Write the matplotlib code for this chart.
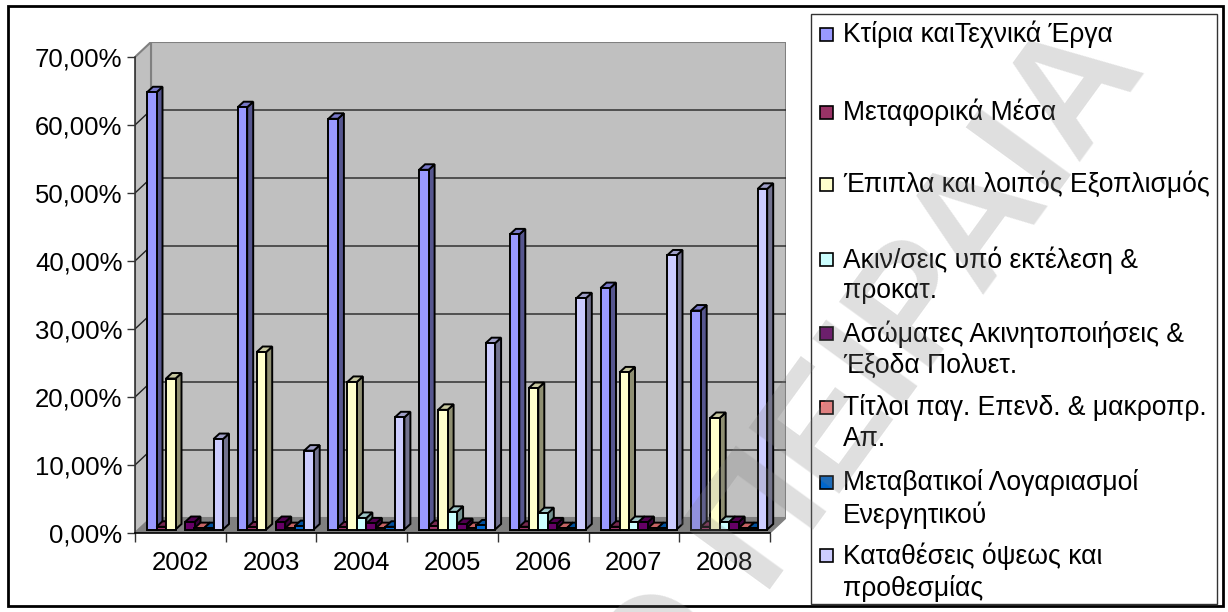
# import packages
import matplotlib
matplotlib.use('Agg')
import matplotlib.pyplot as plt
from matplotlib.patches import Polygon, Rectangle
from matplotlib.colors import to_rgb

plt.rcParams['font.family'] = ['Liberation Sans', 'DejaVu Sans']

W, H = 1228, 612

# data
years = ['2002', '2003', '2004', '2005', '2006', '2007', '2008']
ktiria = [64.3, 62.1, 60.4, 52.9, 43.4, 35.5, 32.2]
metaforika = [0.4, 0.3, 0.3, 0.5, 0.4, 0.4, 0.4]
epipla = [22.2, 26.1, 21.7, 17.6, 20.8, 23.1, 16.4]
akin = [0.0, 0.0, 1.7, 2.6, 2.4, 1.1, 1.1]
asomates = [1.1, 1.1, 0.9, 0.8, 0.9, 1.1, 1.1]
titloi = [0.2, 0.2, 0.2, 0.2, 0.2, 0.2, 0.2]
metavatikoi = [0.2, 0.5, 0.4, 0.6, 0.2, 0.2, 0.2]
katatheseis = [13.3, 11.6, 16.5, 27.4, 34.0, 40.3, 50.1]

series = [ktiria, metaforika, epipla, akin, asomates, titloi, metavatikoi, katatheseis]
colors = ['#9999FF', '#993366', '#FFFFCC', '#CCFFFF', '#660066', '#FF8080', '#0066CC', '#CCCCFF']
labels = ['Κτίρια καιΤεχνικά Έργα', 'Μεταφορικά Μέσα', 'Έπιπλα και λοιπός Εξοπλισμός',
          'Ακιν/σεις υπό εκτέλεση &\nπροκατ.', 'Ασώματες Ακινητοποιήσεις &\nΈξοδα Πολυετ.',
          'Τίτλοι παγ. Επενδ. & μακροπρ.\nΑπ.', 'Μεταβατικοί Λογαριασμοί\nΕνεργητικού',
          'Καταθέσεις όψεως και\nπροθεσμίας']
legend_y = [34, 112, 184, 259, 333, 407, 482, 555]
y_ticks = [0, 10, 20, 30, 40, 50, 60, 70]


def shade(c, k):
    return tuple(v * k for v in to_rgb(c))


# create figure
fig = plt.figure(figsize=(W / 100, H / 100), dpi=100)

# page layer in pixels, for outer frame and legend
bg = fig.add_axes([0, 0, 1, 1])
bg.set_xlim(0, W)
bg.set_ylim(H, 0)
bg.axis('off')
bg.add_patch(Rectangle((8, 6), 1215, 600, fc='white', ec='black', lw=2))
bg.add_patch(Rectangle((811, 14), 406, 590, fc='white', ec='#333333', lw=1))
for lab, c, ly in zip(labels, colors, legend_y):
    bg.add_patch(Rectangle((820, ly - 6), 13, 13, fc=c, ec='black', lw=1.2))
    bg.text(843, ly - 13, lab, fontsize=19.1, va='top', ha='left', linespacing=1.25, color='black')

# chart axes, front plane of the 3d box
px_cat = 90.7
px_pct = 6.8
depth_x, depth_y = 16 / px_cat, 15 / px_pct
left, bottom = 135, 533
right = left + 7 * px_cat + 16
top = bottom - 70 * px_pct - 15
ax = fig.add_axes([left / W, 1 - bottom / H, (right - left) / W, (bottom - top) / H])
ax.set_xlim(0, 7 + depth_x)
ax.set_ylim(0, 70 + depth_y)
ax.patch.set_alpha(0)

n = len(years)
# walls and floor
ax.add_patch(Polygon([(depth_x, depth_y), (n + depth_x, depth_y), (n + depth_x, 70 + depth_y), (depth_x, 70 + depth_y)],
                     fc='#C0C0C0', ec='#808080', lw=1.5, zorder=1))
ax.add_patch(Polygon([(0, 0), (depth_x, depth_y), (depth_x, 70 + depth_y), (0, 70)],
                     fc='#C0C0C0', ec='#808080', lw=1.5, zorder=1))
ax.add_patch(Polygon([(0, 0), (n, 0), (n + depth_x, depth_y), (depth_x, depth_y)],
                     fc='#808080', ec='#808080', lw=1, zorder=1))
for t in y_ticks[1:-1]:
    ax.plot([0, depth_x, n + depth_x], [t, t + depth_y, t + depth_y], color='#222222', lw=1, zorder=2)

# bars, drawn left to right so neighbours hide side faces
bar_w = 9.5 / px_cat
bar_dx, bar_dy = 6 / px_cat, 5.5 / px_pct
off_x, off_y = 12 / px_cat, 3.5 / px_pct
z = 3
for i in range(n):
    for j, (s, c) in enumerate(zip(series, colors)):
        v = s[i]
        x0 = i + off_x + j * bar_w
        x1 = x0 + bar_w
        y0 = off_y
        y1 = off_y + v
        if v <= 0:
            continue
        ax.add_patch(Polygon([(x1, y0), (x1 + bar_dx, y0 + bar_dy), (x1 + bar_dx, y1 + bar_dy), (x1, y1)],
                             fc=shade(c, 0.56), ec='black', lw=1.4, zorder=z))
        ax.add_patch(Polygon([(x0, y1), (x1, y1), (x1 + bar_dx, y1 + bar_dy), (x0 + bar_dx, y1 + bar_dy)],
                             fc=shade(c, 0.78), ec='black', lw=1.4, zorder=z))
        ax.add_patch(Rectangle((x0, y0), bar_w, v, fc=c, ec='black', lw=1.4, zorder=z))
        z += 1

# axes
for sp in ['top', 'right']:
    ax.spines[sp].set_visible(False)
ax.spines['left'].set_bounds(0, 70)
ax.spines['bottom'].set_bounds(0, n)
ax.spines['left'].set_color('#333333')
ax.spines['bottom'].set_color('black')
ax.spines['left'].set_linewidth(1.2)
ax.spines['bottom'].set_linewidth(1.2)
ax.spines['left'].set_zorder(500)
ax.spines['bottom'].set_zorder(500)
ax.set_yticks(y_ticks)
ax.set_yticklabels(['%d,00%%' % t for t in y_ticks], fontsize=18.5)
ax.set_xticks(range(n + 1))
ax.set_xticklabels([])
ax.set_xticks([i + 0.5 for i in range(n)], minor=True)
ax.set_xticklabels(years, minor=True, fontsize=18.5)
ax.tick_params(axis='y', length=6, width=1, pad=3, color='#333333')
ax.tick_params(axis='x', which='major', length=6.5, width=1, color='#333333')
ax.tick_params(axis='x', which='minor', length=0, pad=13)

# watermark
fig.text(1148 / W, 1 - 70 / H, 'Ο ΠΕΙΡΑΙΑ', fontsize=118, fontweight='bold', color='#808080', alpha=0.25,
         rotation=54, ha='right', va='baseline', rotation_mode='anchor', zorder=1000)

fig.savefig('out.png', dpi=100)
